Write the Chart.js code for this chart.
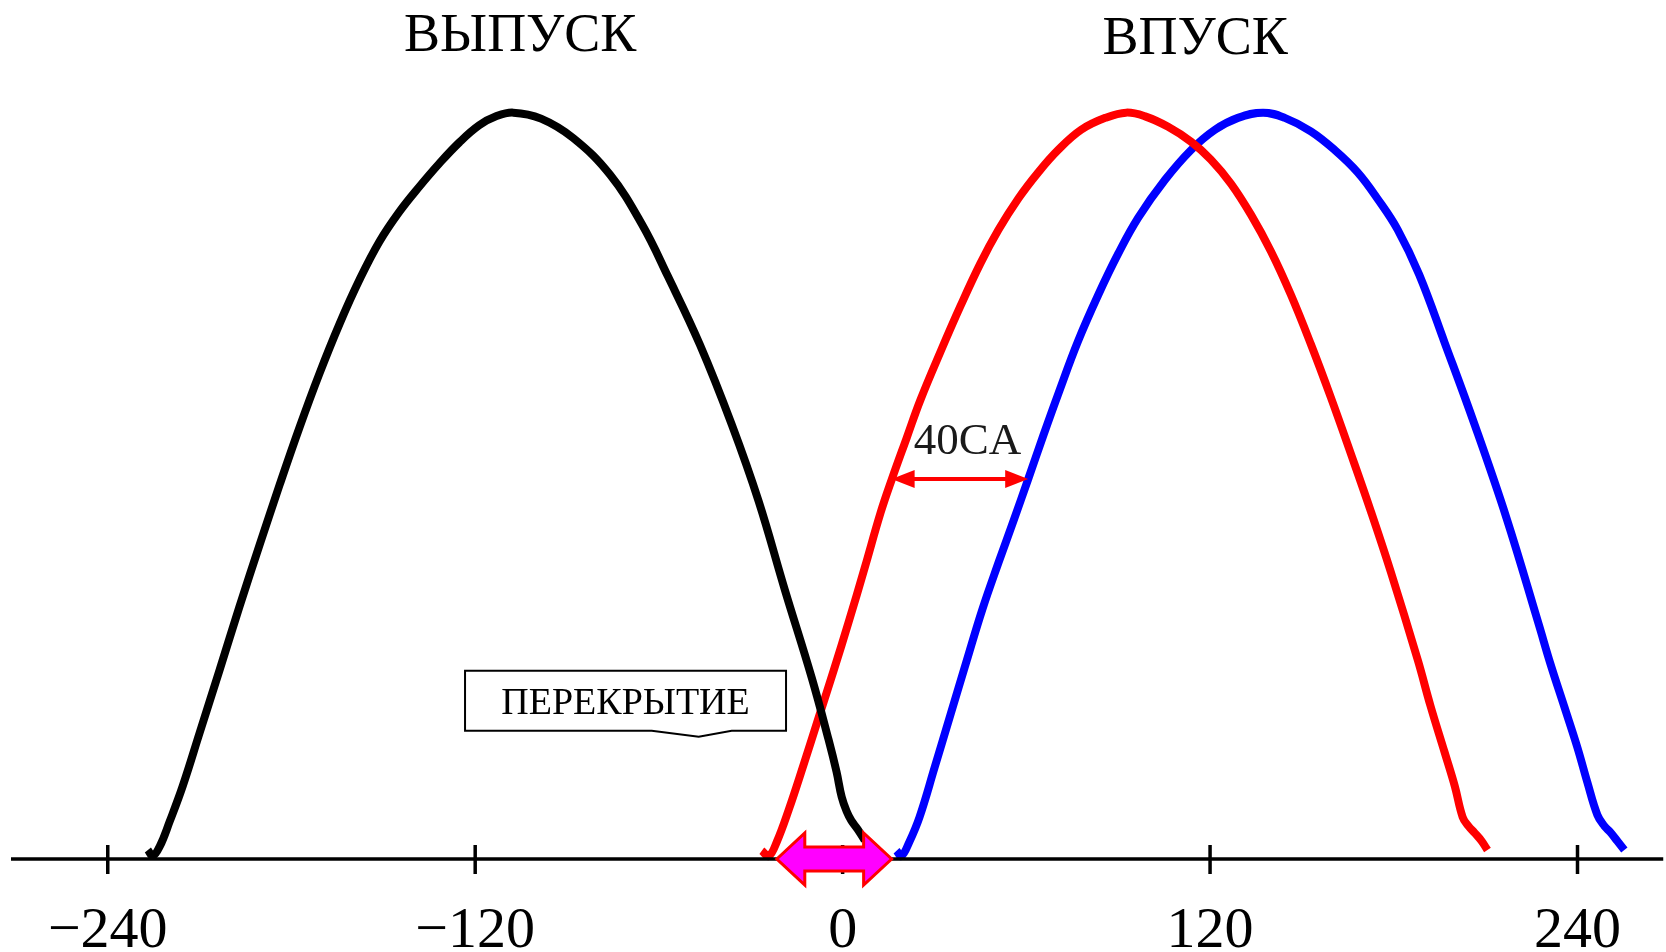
<!DOCTYPE html>
<html lang="ru">
<head>
<meta charset="utf-8">
<title>Перекрытие клапанов</title>
<script src="https://cdn.jsdelivr.net/npm/chart.js@4.4.1/dist/chart.umd.min.js"></script>
<style>
  html, body { margin: 0; padding: 0; background: #fff; overflow: hidden; }
  #wrap { width: 1666px; height: 952px; overflow: hidden; }
  #valveChart { display: block; }
</style>
</head>
<body>
<div id="wrap"><canvas id="valveChart" width="1666" height="952"></canvas></div>
<script>
// угол поворота коленвала (град) и подъём клапана (усл. ед.)
const xTicks = [-240, -120, 0, 120, 240];

// выпуск (чёрная)
const exhaustDeg = [-226.9, -225.3, -223.0, -219.8, -215.5, -210.0, -203.5, -197.0, -190.4, -183.9, -177.4, -170.9, -164.3, -157.8, -151.3, -144.8, -138.2, -131.7, -125.2, -118.7, -113.2, -107.6, -98.5, -88.0, -76.0, -65.5, -57.1, -46.6, -36.2, -27.4, -18.9, -10.1, -4.6, -2.0, -0.3, 1.3, 2.9, 4.9, 7.2];
const exhaustLift = [0.12, 0.04, 0.17, 0.50, 0.98, 1.69, 2.53, 3.38, 4.21, 5.01, 5.78, 6.50, 7.17, 7.76, 8.27, 8.67, 9.01, 9.32, 9.60, 9.83, 9.95, 10.0, 9.92, 9.66, 9.17, 8.50, 7.81, 6.89, 5.82, 4.79, 3.61, 2.43, 1.60, 1.17, 0.83, 0.64, 0.51, 0.40, 0.25];

// впуск (красная)
const intakeDeg = [-26.4, -24.1, -21.5, -17.6, -12.7, -7.8, -2.9, 2.0, 7.2, 12.4, 16.0, 20.9, 25.4, 32.0, 38.5, 45.0, 50.9, 57.4, 63.9, 70.4, 77.9, 85.8, 92.6, 98.8, 106.3, 113.8, 120.3, 126.8, 133.4, 139.9, 146.4, 152.9, 159.4, 165.9, 172.5, 179.0, 187.8, 192.0, 196.6, 199.9, 202.5, 204.4, 206.4, 208.7, 210.6];
const intakeLift = [0.11, 0.04, 0.23, 0.66, 1.27, 1.90, 2.53, 3.18, 3.90, 4.64, 5.08, 5.64, 6.15, 6.80, 7.41, 7.98, 8.43, 8.85, 9.20, 9.50, 9.77, 9.93, 10.0, 9.95, 9.81, 9.61, 9.37, 9.05, 8.63, 8.14, 7.56, 6.90, 6.19, 5.44, 4.66, 3.85, 2.67, 2.05, 1.43, 0.98, 0.56, 0.44, 0.35, 0.24, 0.12];

// впуск, сдвинутый на 40 град (синяя)
const lateDeg = [17.6, 19.2, 21.8, 25.1, 30.0, 35.2, 40.4, 45.6, 50.9, 55.8, 60.6, 65.5, 70.4, 76.9, 83.5, 90.0, 96.5, 105.3, 113.8, 121.6, 129.1, 137.3, 144.4, 152.9, 160.7, 168.2, 174.8, 181.3, 188.3, 196.6, 206.4, 216.8, 227.3, 231.2, 235.7, 240.0, 243.2, 246.5, 248.8, 250.7, 253.0, 255.3];
const lateLift = [0.11, 0.04, 0.23, 0.56, 1.22, 1.93, 2.64, 3.34, 3.97, 4.53, 5.09, 5.67, 6.23, 6.94, 7.56, 8.11, 8.59, 9.10, 9.50, 9.77, 9.93, 10.0, 9.93, 9.75, 9.50, 9.20, 8.84, 8.43, 7.83, 6.92, 5.82, 4.57, 3.15, 2.61, 2.04, 1.49, 1.03, 0.59, 0.44, 0.36, 0.24, 0.12];

// перекрытие и сдвиг фаз
const overlapFrom = -21.5, overlapTo = 16.0;
const shiftFrom = 16.0, shiftTo = 60.6, shiftLevel = 5.09;

const serif = '"Liberation Serif", "Times New Roman", serif';

const toPoints = (xs, ys) => xs.map((v, i) => ({ x: v, y: ys[i] }));

// надписи, стрелки и ось рисуем поверх графиков
const decorPlugin = {
    id: 'decor',
    afterDatasetsDraw(chart) {
        const { ctx, chartArea, scales: { x, y } } = chart;
        const y0 = y.getPixelForValue(0);
        ctx.save();

        // ось и засечки
        ctx.strokeStyle = '#000';
        ctx.lineWidth = 3.5;
        ctx.beginPath();
        ctx.moveTo(chartArea.left, y0);
        ctx.lineTo(chartArea.right, y0);
        ctx.stroke();
        xTicks.forEach(v => {
            const px = x.getPixelForValue(v);
            ctx.beginPath();
            ctx.moveTo(px, y0 - 14);
            ctx.lineTo(px, y0 + 15);
            ctx.stroke();
        });

        // заголовки
        ctx.fillStyle = '#000';
        ctx.textAlign = 'center';
        ctx.textBaseline = 'alphabetic';
        ctx.font = `54px ${serif}`;
        ctx.fillText('ВЫПУСК', x.getPixelForValue(-105.3), y.getPixelForValue(10.82));
        ctx.fillText('ВПУСК', x.getPixelForValue(115.1), y.getPixelForValue(10.78));

        // стрелка 40CA
        const a1 = x.getPixelForValue(shiftFrom), a2 = x.getPixelForValue(shiftTo);
        const ay = y.getPixelForValue(shiftLevel);
        ctx.strokeStyle = '#f00';
        ctx.fillStyle = '#f00';
        ctx.lineWidth = 4;
        ctx.beginPath();
        ctx.moveTo(a1 + 15, ay);
        ctx.lineTo(a2 - 15, ay);
        ctx.stroke();
        [[a1, 1], [a2, -1]].forEach(([px, d]) => {
            ctx.beginPath();
            ctx.moveTo(px, ay);
            ctx.lineTo(px + d * 23, ay - 9);
            ctx.lineTo(px + d * 23, ay + 9);
            ctx.closePath();
            ctx.fill();
        });
        ctx.fillStyle = '#1a1a1a';
        ctx.font = `45px ${serif}`;
        ctx.fillText('40CA', x.getPixelForValue(40.8), y.getPixelForValue(5.42));

        // выноска ПЕРЕКРЫТИЕ
        const bx = x.getPixelForValue(-70.9), by = y.getPixelForValue(2.12);
        const tipX = x.getPixelForValue(-47.0);
        const bw = 321, bh = 60;
        const l = bx - bw / 2, r = bx + bw / 2, t = by - bh / 2, b = by + bh / 2;
        ctx.beginPath();
        ctx.moveTo(l, t);
        ctx.lineTo(r, t);
        ctx.lineTo(r, b);
        ctx.lineTo(tipX + 33, b);
        ctx.lineTo(tipX, b + 6);
        ctx.lineTo(tipX - 47, b);
        ctx.lineTo(l, b);
        ctx.closePath();
        ctx.fillStyle = '#fff';
        ctx.fill();
        ctx.strokeStyle = '#000';
        ctx.lineWidth = 2;
        ctx.stroke();
        ctx.fillStyle = '#000';
        ctx.font = `38px ${serif}`;
        ctx.fillText('ПЕРЕКРЫТИЕ', bx, by + 13);

        // стрелка перекрытия
        const xa = x.getPixelForValue(overlapFrom), xb = x.getPixelForValue(overlapTo);
        const head = 28, hh = 26, sh = 12;
        ctx.beginPath();
        ctx.moveTo(xa, y0);
        ctx.lineTo(xa + head, y0 - hh);
        ctx.lineTo(xa + head, y0 - sh);
        ctx.lineTo(xb - head, y0 - sh);
        ctx.lineTo(xb - head, y0 - hh);
        ctx.lineTo(xb, y0);
        ctx.lineTo(xb - head, y0 + hh);
        ctx.lineTo(xb - head, y0 + sh);
        ctx.lineTo(xa + head, y0 + sh);
        ctx.lineTo(xa + head, y0 + hh);
        ctx.closePath();
        ctx.fillStyle = '#ff00ff';
        ctx.fill();
        ctx.strokeStyle = '#ff0000';
        ctx.lineWidth = 3;
        ctx.lineJoin = 'miter';
        ctx.stroke();

        ctx.restore();
    }
};

const lineSet = (label, pts, color) => ({
    label: label,
    data: pts,
    borderColor: color,
    borderWidth: 8,
    pointRadius: 0,
    tension: 0.4,
    fill: false,
    clip: false
});

new Chart(document.getElementById('valveChart').getContext('2d'), {
    type: 'line',
    data: {
        datasets: [
            lineSet('Выпуск', toPoints(exhaustDeg, exhaustLift), '#000000'),
            lineSet('Впуск', toPoints(intakeDeg, intakeLift), '#ff0000'),
            lineSet('Впуск +40', toPoints(lateDeg, lateLift), '#0000ff')
        ]
    },
    options: {
        responsive: false,
        animation: false,
        layout: { padding: { top: 38, left: 11, right: 0, bottom: 0 } },
        plugins: {
            legend: { display: false },
            tooltip: { enabled: false }
        },
        scales: {
            x: {
                type: 'linear',
                min: -271.6,
                max: 268,
                afterBuildTicks: (scale) => { scale.ticks = xTicks.map(v => ({ value: v })); },
                afterFit: (scale) => { scale.height = 93; },
                grid: { display: false, drawTicks: false },
                border: { display: false },
                ticks: {
                    color: '#000',
                    padding: 45,
                    maxRotation: 0,
                    autoSkip: false,
                    font: { family: serif, size: 58, lineHeight: 0.95 },
                    callback: (v) => (v < 0 ? '\u2212' + Math.abs(v) : String(v))
                }
            },
            y: {
                type: 'linear',
                min: 0,
                max: 11,
                display: false
            }
        }
    },
    plugins: [decorPlugin]
});
</script>
</body>
</html>
